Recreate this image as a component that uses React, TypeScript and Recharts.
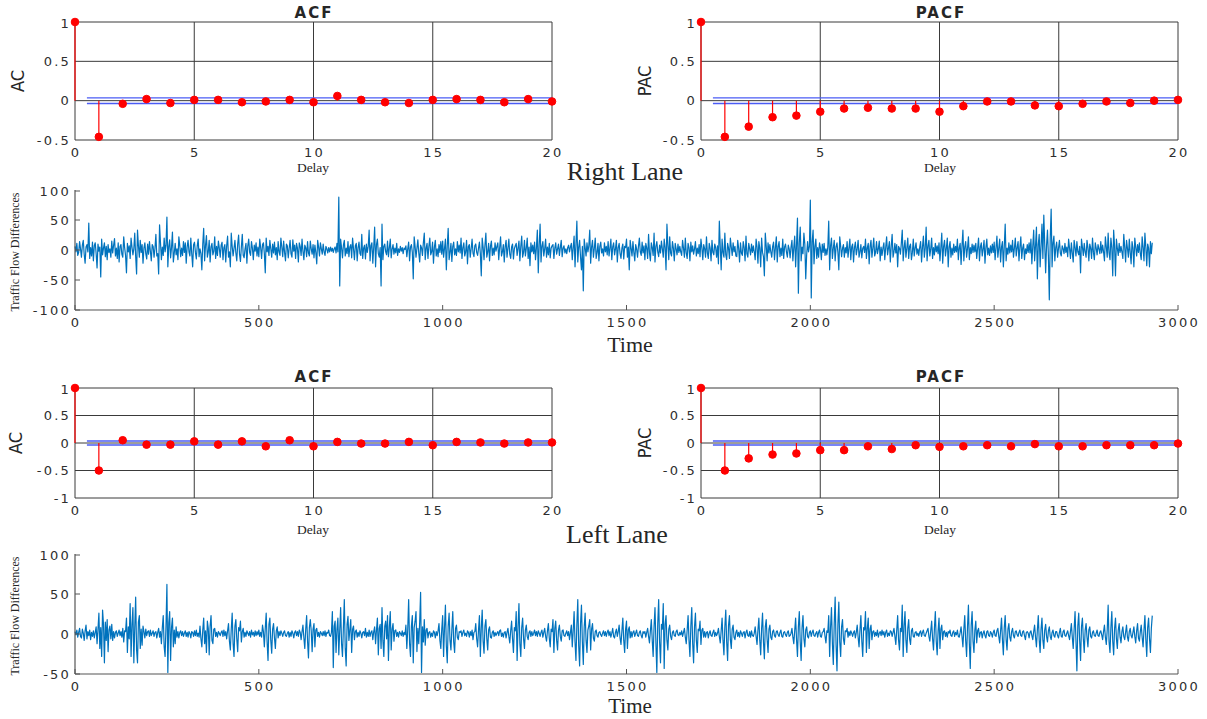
import React from 'react';
import { ComposedChart, LineChart, Line, XAxis, YAxis, CartesianGrid, ReferenceLine } from 'recharts';

// ---- ACF / PACF values (lag 0..20) ----
const lags = [0, 1, 2, 3, 4, 5, 6, 7, 8, 9, 10, 11, 12, 13, 14, 15, 16, 17, 18, 19, 20];
const rightAcf = [1, -0.46, -0.04, 0.02, -0.03, 0.01, 0.01, -0.02, -0.01, 0.01, -0.02, 0.06, 0.01, -0.02, -0.03, 0.01, 0.02, 0.01, -0.02, 0.02, -0.01];
const rightPacf = [1, -0.46, -0.33, -0.21, -0.19, -0.14, -0.10, -0.09, -0.10, -0.10, -0.14, -0.07, -0.01, -0.01, -0.06, -0.07, -0.04, -0.01, -0.03, 0.0, 0.01];
const leftAcf = [1, -0.5, 0.05, -0.03, -0.03, 0.03, -0.03, 0.03, -0.06, 0.05, -0.06, 0.02, -0.01, -0.01, 0.02, -0.04, 0.02, 0.01, -0.01, 0.01, 0.01];
const leftPacf = [1, -0.5, -0.28, -0.21, -0.19, -0.13, -0.13, -0.06, -0.11, -0.04, -0.07, -0.06, -0.04, -0.06, -0.02, -0.06, -0.06, -0.04, -0.04, -0.04, -0.01];
const confBound = 0.036;

const delayTicks = [0, 5, 10, 15, 20];
const acTicksTop = [-0.5, 0, 0.5, 1];
const acTicksBottom = [-1, -0.5, 0, 0.5, 1];
const timeTicks = [0, 500, 1000, 1500, 2000, 2500, 3000];
const rightFlowTicks = [-100, -50, 0, 50, 100];
const leftFlowTicks = [-50, 0, 50, 100];

// ---- traffic flow differences, every 2.5 time steps ----
const SAMPLE_STEP = 2.5;

const rightLane0 = [
  6, -3, 11, -9, -4, 14, 2, -12, 8, 16, -7, -22, 5, 9, -3, 45, -14, 4, -10, 13,
  -18, 7, 12, -6, -30, 10, -2, 5, -45, 18, -8, 3, 12, -11, 6, -16, 9, -4, 2, -12,
  15, -5, 8, 19, -10, 3, -14, 12, -20, 6, 9, -7, -12, 22, 4, -9, -38, 11, -3, 7,
  -14, 20, 5, -8, 2, 28, -11, -40, 33, 7, -12, 16, -4, 9, -22, 3, 12, -6, -15, 10,
  -7, 14, -2, -18, 9, 6, -12, 3, 26, -10, -6, -40, 42, 12, -16, 5, -9, 20, -3, 8,
  55, -28, 6, 17, -13, 4, 30, -20, -5, 11, -8, 2, -16, 22, 7, -11, 3, -9, 14, -4,
  12, -22, 5, 16, -3, -10, 20, -6, -28, 9, 13, -4, -15, 7, 18, -11, 2, -6, -33, 10,
  36, -18, 8, 24, -12, -3, 16, -20, 5, 11, -8, -2, 22, -14, 6, -9, 15, 3, -12, 8,
  13, -16, 4, 9, -20, 7, 23, -12, -3, -28, 28, 6, -10, 3, 16, -5, -18, 10, 25, -7,
  -19, 5, 26, -9, -13, 2, 11, -22, 7, 18, -4, -9, 14, 3, -16, 8, -2, 12, -10, 5,
];
const rightLane500 = [
  -11, 18, 4, -14, 9, 12, -6, -38, 20, -3, 6, -9, 16, 2, -12, 10, -5, 13, -8, 4,
  -16, 14, -3, -9, 20, 5, -11, 15, -4, -18, 10, 7, -13, 3, 16, -6, -12, 17, -2, 8,
  -14, 11, 3, -20, 12, 6, -9, 18, -2, -16, 8, 4, -11, 14, -5, -10, 15, 2, -7, 9,
  -13, 8, -4, -23, 16, 5, -10, 12, 2, -7, 10, -3, -9, 6, 2, -5, 4, -3, 5, -2,
  3, -4, 2, 5, -5, 11, -3, 88, -60, 18, 4, -13, 8, 16, -10, 3, -6, 14, -11, 5,
  9, -13, 20, 2, -16, 7, 11, -18, 4, 13, -6, -9, 26, -14, 3, 8, -15, 10, -4, 6,
  33, -18, 7, 12, -22, 5, 38, -28, 9, 18, -6, -12, 4, -60, 43, -16, 6, 10, -3, -8,
  15, -11, 4, 18, -13, 2, 9, -7, 3, -5, 11, -9, 2, -4, 6, -2, 4, -6, 3, 1,
  7, -11, 2, 13, -18, 5, 9, -4, -48, 22, 6, -12, 3, 17, -5, -20, 8, 4, -9, 12,
  28, -16, 3, 11, -14, 6, 20, -8, -3, 13, -22, 5, 16, -10, 2, -11, 9, -4, 14, -7,
];
const rightLane1000 = [
  15, -12, 3, 18, -33, 7, 36, -16, -4, 11, -19, 6, 13, -8, 2, -9, 14, -3, 8, -5,
  20, -14, 4, 12, -10, -3, 16, -23, 6, 9, -12, 2, 18, -5, -11, 7, 10, -4, -9, 3,
  13, -6, -43, 20, 5, -16, 8, 28, -12, -3, 11, -18, 6, 15, -9, 3, -8, 12, -2, 6,
  12, -16, 4, 22, -10, -3, 9, -20, 6, 16, -12, 3, 18, -7, -14, 5, 10, -15, 2, 7,
  11, -9, 3, 15, -18, 6, 23, -12, -4, 16, -10, 3, 20, -14, 5, -26, 12, -3, 8, -6,
  13, -16, 4, 33, -38, 8, 43, -20, 6, 14, -10, 2, 18, -12, 5, -8, 11, -13, 3, 7,
  9, -14, 3, 12, -7, 2, 10, -9, 4, 16, -11, 3, 7, -5, 2, -6, 4, 8, -3, 5,
  11, -16, 4, 23, -28, 9, 48, -20, 5, 16, -12, -33, 6, -68, 18, 4, -10, 12, -3, 7,
  33, -22, 5, 16, -12, 3, 20, -14, -4, 11, -18, 6, 13, -5, 2, -10, 12, -3, 6, -8,
  14, -10, 3, 18, -16, 5, 12, -8, 2, 16, -20, 4, 11, -6, -14, 3, 10, -15, 6, 4,
];
const rightLane1500 = [
  18, -12, 5, -33, 16, 3, -10, 14, -4, -18, 9, 2, -12, 6, 20, -3, -9, 13, -5, 7,
  -16, 11, 3, -14, 26, -5, -18, 12, 4, -9, 28, -20, 6, 14, -3, -11, 8, -5, 15, 2,
  -12, 18, 4, -33, 43, 8, -16, 22, -5, -10, 14, 3, -18, 11, 2, -8, 10, -4, 6, -3,
  -9, 16, 3, -12, 20, -5, -14, 11, 4, -18, 13, -3, 7, -7, 2, 14, -10, 3, -6, 9,
  -11, 18, 4, -16, 9, 2, -12, 22, -5, -14, 11, 3, -18, 16, -4, -8, 10, 4, -12, 7,
  -23, 48, 6, -33, 18, -4, -12, 28, -8, -16, 11, 3, -14, 20, 5, -9, 12, -3, 6, -10,
  -11, 16, 3, -20, 12, -5, -9, 14, 4, -18, 23, -6, -12, 11, 2, -8, 10, -4, 7, -3,
  -16, 18, 5, -22, 14, 3, -28, 20, -4, -11, -43, 28, 7, -18, 12, -5, 9, -3, -12, 6,
  13, -16, 4, 22, -20, 6, 14, -11, 3, -9, 18, -14, 5, 10, -3, -12, 8, 2, -13, 5,
  16, -18, 4, 23, -28, 9, 53, -72, 12, 38, -18, 5, -6, 28, 10, -48, -8, 14, -3, 6,
];
const rightLane2000 = [
  83, -80, 14, 33, -23, 6, 18, -14, 4, -12, 12, 3, -16, 10, -4, 11, -9, 2, -8, 5,
  48, -33, 7, 20, -14, 3, 16, -18, 5, 12, -4, -33, 22, 6, -11, 3, 9, -12, 4, -5,
  14, -12, 3, 18, -16, 5, 10, -20, 4, 13, -8, 2, 16, -12, -3, 9, -13, 3, 6, -4,
  18, -14, 4, 11, -23, 6, 16, -12, 3, 20, -10, -4, 14, -6, 2, 15, -18, 5, -9, 3,
  12, -16, 4, 22, -8, 3, 14, -20, 6, 26, -12, -3, 11, -5, 9, -28, 6, 3, -7, 11,
  33, -18, 4, 16, -12, 3, 20, -14, 6, 10, -16, -4, 18, -10, 3, 12, -7, 2, -9, 5,
  14, -20, 5, 23, -12, 3, 38, -18, 6, 16, -10, 2, 20, -14, 4, -8, 11, -3, 7, -6,
  12, -18, 4, 28, -22, 6, 16, -10, 3, 20, -28, 5, 14, -12, 3, -8, 10, -4, 6, -3,
  18, -16, 4, 11, -24, 7, 33, -18, 5, 14, -12, 3, 22, -16, 4, -6, 10, -4, 8, -3,
  11, -14, 3, 20, -18, 5, 12, -10, 2, 16, -22, 4, 18, -8, 3, -9, 7, -5, 10, -4,
];
const rightLane2500 = [
  13, -16, 4, 23, -12, 3, 18, -20, 5, 14, -28, 6, 43, -18, 3, -7, 12, -5, 8, -3,
  16, -12, 3, 20, -10, 4, 14, -18, 5, 22, -14, 3, 10, -16, 2, -6, 9, -4, 12, -5,
  18, -23, 6, 33, -18, 7, 38, -48, 9, 26, -28, 6, 43, -14, 58, 10, -38, 8, 33, -10,
  -83, 20, 68, -28, 12, 23, -18, 4, 13, -12, 3, 16, -5, -10, 7, 2, -6, 11, -4, 5,
  -11, 18, 3, -14, 12, -5, -20, 16, 4, -10, 14, -3, -8, 6, -38, 18, 5, -9, 11, -3,
  -12, 16, 4, -18, 10, 3, -14, 20, -4, -16, 12, 3, -8, 9, 2, -6, 14, -5, 8, -3,
  -18, 22, 5, -12, 28, -5, -16, 20, 4, -43, 33, 6, -43, 18, 3, -9, 11, -4, 6, -3,
  -14, 26, 5, -20, 16, 3, -12, 18, -4, -23, 14, 3, -28, 20, 5, -10, 9, -4, 12, -6,
  -16, 22, 4, -18, 28, 5, -26, 10, 3, -28, 14, -6, 12,
];

const leftLane0 = [
  3, -1, 5, -4, 2, 7, -3, -5, 6, 1, -8, 4, 11, -6, 3, -2, 5, -7, 2, -3,
  4, -5, 2, 9, -12, 6, 26, -18, 8, -28, 30, 12, -36, 15, -8, 18, -22, 5, 10, -6,
  12, -8, 3, -5, 2, 4, -3, 1, 5, -2, 3, -4, 7, -10, 4, 3, 20, -23, 9, -6,
  38, -28, 12, 33, -36, 8, 46, -20, -36, 15, 23, -18, 6, -14, 10, 3, -5, 6, -2, 3,
  4, -3, 5, -2, 1, 4, -3, 2, 3, -5, 2, 7, -4, 3, -12, 8, 23, -16, -28, 10,
  62, -48, 14, 28, -33, 8, 20, -16, 5, -12, 9, -4, 3, -5, 2, 4, -2, 3, -3, 1,
  4, -3, 2, -4, 3, 1, -5, 3, 2, -3, 4, -2, 5, -3, 1, -4, 10, -6, -16, 5,
  20, -12, 4, -23, 16, 7, -26, 10, 23, -8, -12, 6, 7, -3, 2, -4, 3, 1, -2, 2,
  4, -3, 5, -2, 3, -6, 4, 13, -9, -20, 6, 26, -12, -28, 10, 18, -6, -22, 8, 4,
  16, -10, 3, 7, -4, 2, -3, 4, 1, -2, 3, -4, 5, -1, 2, -3, 4, -2, 3, -1,
];
const leftLane500 = [
  5, -3, 2, -4, 11, 3, -16, 7, 26, -10, -33, 12, 20, -8, -24, 6, 13, -5, -18, 4,
  9, -5, 3, -2, 4, 1, -3, 2, 4, -2, -3, 1, 3, -4, 2, -3, 4, 1, -5, 2,
  4, -2, 3, -3, 5, 2, -7, 3, 11, -5, -18, 6, 23, -9, -30, 8, 18, 4, -22, 6,
  13, -16, 5, 7, -3, 2, -4, 3, 1, -2, 3, -2, 4, -3, 2, 1, 5, -2, -3, 2,
  28, -42, 10, 16, -23, 6, 20, -26, 4, 33, -12, -28, 8, 43, -18, -40, 12, 22, -8, 5,
  18, -23, 6, 10, -7, 3, 5, -4, 2, -3, 4, 1, -5, 2, 3, -2, 7, -4, 2, -3,
  5, -3, 2, 4, -7, 3, 9, -12, 5, 20, -26, 7, 12, -18, 33, -8, -28, 10, 16, -6,
  23, -33, 9, 28, -20, 6, 13, -9, 4, 5, -3, 2, -4, 3, 1, -2, 4, -3, 2, -1,
  11, -18, 6, 43, -12, -28, 10, 23, -36, 8, 16, 28, -22, 7, -12, 15, 52, -48, 9, -10,
  18, -14, 5, 7, -5, 2, 3, -4, 1, -3, 4, 2, -5, 3, -2, 4, 13, -8, -18, 6,
];
const leftLane1000 = [
  23, -28, 8, 36, -15, -36, 10, 26, -8, -20, 6, 28, -10, -23, 7, 11, -4, -7, 3, 2,
  4, -3, 2, 5, -2, 1, -3, 4, 2, -4, 3, -2, 5, -7, 2, 3, 13, -6, -16, 5,
  23, -28, 7, 30, -9, -24, 10, 18, -6, -20, 5, 9, -4, -5, 2, 4, -3, 2, -2, 1,
  3, -2, 4, 5, -3, 1, -4, 2, 3, -5, 2, 7, -3, -11, 4, 16, -6, -23, 8, 4,
  28, -33, 9, 38, -12, -28, 8, 20, -6, -18, 5, 11, -3, -7, 2, 4, -3, 3, -2, 1,
  5, -2, 3, -3, 4, 1, -3, 2, 5, -4, 2, 7, -3, -9, 4, 13, -5, -16, 6, 3,
  18, -23, 7, 16, -8, -20, 5, 11, -3, -9, 4, 5, -2, -3, 1, 4, -2, 3, -7, 2,
  11, -16, 4, 28, -10, -33, 12, 43, -15, -40, 13, 36, -10, -38, 9, 26, -8, -23, 5, 10,
  18, -20, 6, 13, -5, -9, 3, 5, -2, -4, 2, 3, -1, -3, 1, 4, -2, 3, -3, 2,
  5, -2, 3, -4, 1, 7, -3, -5, 2, 6, -3, 3, 11, -5, -13, 4, 20, -8, -23, 6,
];
const leftLane1500 = [
  16, -18, 5, 9, -5, 3, -4, 2, 4, -3, 1, 5, -2, -3, 2, 4, -2, -5, 3, 1,
  3, -4, 2, 7, -3, -11, 4, 18, -8, -28, 10, 33, -12, -48, 13, 43, -10, -36, 12, 6,
  38, -43, 12, 23, -8, -20, 6, 11, -3, -7, 2, 4, -2, -3, 3, 5, -1, -2, 2, -1,
  4, -3, 2, 7, -4, -12, 5, 23, -8, -28, 10, 33, -12, -36, 9, 26, -8, -23, 6, 4,
  16, -13, 5, 7, -4, 3, -4, 2, 3, -5, 1, 4, -2, -3, 2, 5, -3, 2, -2, 1,
  7, -3, -11, 4, 20, -8, -26, 9, 30, -10, -33, 11, 23, -7, -18, 6, 11, -4, -7, 2,
  5, -3, 2, -4, 4, 1, -3, 2, 3, -5, 2, 5, -2, -3, 3, -4, 4, -2, -3, 1,
  9, -3, -13, 5, 20, -8, -26, 7, 26, -10, -31, 9, 18, -7, -23, 6, 11, -4, -7, 3,
  5, -2, -4, 3, 4, -1, -3, 2, 5, -3, -4, 2, 3, -1, -3, 2, 4, -3, -2, 1,
  7, -4, -12, 4, 20, -7, -28, 9, 28, -10, -33, 8, 23, -6, -16, 5, 9, -3, -5, 2,
];
const leftLane2000 = [
  4, -3, 2, 5, -2, -3, 1, 3, -4, 2, 5, -3, -4, 2, 3, 7, -3, -11, 4, 2,
  23, -28, 8, 33, -12, -38, 13, 46, -14, -46, 12, 40, -10, -28, 9, 18, -6, -13, 4, 3,
  7, -4, 3, -2, 4, 1, -3, 2, 4, -5, 2, 11, -4, -16, 5, 23, -9, -28, 8, 5,
  28, -23, 7, 20, -18, 6, 11, -7, 3, 4, -3, 2, -2, 5, -4, 1, 3, -2, 5, -1,
  3, -4, 2, 5, -3, 1, -2, 4, 3, -3, 2, 7, -3, -13, 5, 23, -8, -20, 7, 3,
  36, -28, 10, 28, -8, -23, 7, 18, -6, -13, 4, 7, -3, -4, 2, 3, -2, 1, -3, 2,
  4, -3, 2, 5, -2, -3, 1, 4, 7, -3, -9, 4, 16, -6, -20, 7, 28, -9, -26, 4,
  20, -18, 6, 11, -7, 3, 4, -3, 2, -4, 3, 1, 5, -2, -3, 2, 4, -3, 2, -1,
  5, -3, -4, 2, 9, -3, -16, 6, 23, -8, -28, 9, 36, -12, -43, 11, 28, -9, -23, 5,
  16, -11, 4, 7, -4, 2, 3, -5, 1, 4, -2, -5, 3, 4, -2, -3, 3, 1, -4, 2,
];
const leftLane2500 = [
  5, -2, -3, 4, 7, -3, -11, 4, 20, -7, -26, 8, 23, -7, -20, 6, 13, -4, -9, 3,
  7, -2, -5, 3, 4, -1, -3, 2, 5, -2, -3, 3, 4, -2, -7, 2, 3, 1, -5, 2,
  4, -2, -7, 3, 11, -4, -16, 5, 23, -7, -23, 6, 20, -8, -18, 5, 12, -3, -10, 4,
  9, -3, -7, 2, 5, -2, -4, 3, 3, -2, -5, 2, 7, -3, -4, 3, 5, -2, -3, 1,
  4, -2, -7, 3, 13, -4, -18, 6, 28, -9, -46, 10, 26, -8, -33, 9, 20, -6, -23, 5,
  13, -4, -16, 5, 9, -3, -5, 2, 4, -2, -3, 1, 5, -2, -3, 2, 4, -1, -7, 3,
  11, -4, -13, 5, 36, -10, -23, 8, 28, -9, -26, 7, 20, -6, -18, 5, 13, -4, -11, 3,
  9, -3, -7, 2, 11, -4, -9, 3, 7, -2, -5, 2, 9, -3, -11, 4, 13, -5, -9, 3,
  11, -4, -16, 5, 23, -7, -28, 8, 20, -6, -23, 7, 23,
];

const rightLane = [...rightLane0, ...rightLane500, ...rightLane1000, ...rightLane1500, ...rightLane2000, ...rightLane2500];
const leftLane = [...leftLane0, ...leftLane500, ...leftLane1000, ...leftLane1500, ...leftLane2000, ...leftLane2500];

const TICK_FONT = "'DejaVu Sans', sans-serif";
const TICK_COLOR = '#2e2e2e';
const FRAME = '#555555';
const SERIF = "'Liberation Serif', 'DejaVu Serif', serif";
const NARROW = "'Liberation Sans Narrow', 'DejaVu Sans Condensed', sans-serif";
const TITLE_FONT = "'DejaVu Sans', sans-serif";

const tickText = (x: number, y: number, value: any, anchor: 'middle' | 'end') => (
  <text
    x={x}
    y={y}
    textAnchor={anchor}
    dominantBaseline="central"
    fontFamily={TICK_FONT}
    fontSize={13}
    fill={TICK_COLOR}
    style={{ letterSpacing: '2.2px' }}
  >
    {value}
  </text>
);

// tick components: labels outside, short tick marks pointing into the plot
const BottomTick = ({ x, y, payload, gap, mark }: any) => (
  <g>
    {mark ? <line x1={x} x2={x} y1={y - gap} y2={y - gap - 5} stroke={FRAME} /> : null}
    {tickText(x + 1, y + 6, payload.value, 'middle')}
  </g>
);
const LeftTick = ({ x, y, payload, gap, mark }: any) => (
  <g>
    {mark ? <line x1={x + gap} x2={x + gap + 5} y1={y} y2={y} stroke={FRAME} /> : null}
    {tickText(x + 2, y, payload.value, 'end')}
  </g>
);
const TopTick = ({ x, y }: any) => <line x1={x} x2={x} y1={y} y2={y + 5} stroke={FRAME} />;
const RightTick = ({ x, y }: any) => <line x1={x} x2={x - 5} y1={y} y2={y} stroke={FRAME} />;

const Txt: React.FC<{ cx: number; cy: number; size: number; font?: string; bold?: boolean; rotate?: boolean; spacing?: number; children: React.ReactNode }> = ({ cx, cy, size, font = SERIF, bold, rotate, spacing, children }) => (
  <div
    style={{
      position: 'absolute',
      left: cx,
      top: cy,
      transform: `translate(-50%, -50%)${rotate ? ' rotate(-90deg)' : ''}`,
      fontFamily: font,
      fontSize: size,
      fontWeight: bold ? 700 : 400,
      letterSpacing: spacing ? `${spacing}px` : undefined,
      color: '#262626',
      whiteSpace: 'nowrap',
      lineHeight: 1,
    }}
  >
    {children}
  </div>
);

interface StemProps {
  x: number;
  y: number;
  w: number;
  h: number;
  values: number[];
  domain: [number, number];
  yTicks: number[];
}

const StemPanel: React.FC<StemProps> = ({ x, y, w, h, values, domain, yTicks }) => {
  const data = lags.map((lag, i) => ({ lag, v: values[i] }));
  const padL = 60, padR = 14, padT = 8, padB = 30;
  return (
    <div style={{ position: 'absolute', left: x - padL, top: y - padT }}>
      <ComposedChart width={w + padL + padR} height={h + padT + padB} data={data} margin={{ top: padT, right: padR, bottom: 0, left: 0 }}>
        <CartesianGrid stroke="#3a3a3a" strokeWidth={1} />
        <XAxis dataKey="lag" type="number" domain={[0, 20]} ticks={delayTicks} height={padB} tickSize={0} tickMargin={6} axisLine={false} tickLine={false} tick={<BottomTick gap={6} mark={false} />} />
        <YAxis type="number" domain={domain} ticks={yTicks} width={padL} tickSize={0} tickMargin={6} axisLine={false} tickLine={false} tick={<LeftTick gap={6} mark={false} />} />
        <ReferenceLine segment={[{ x: 0.5, y: confBound }, { x: 20, y: confBound }]} stroke="#4b5cf5" strokeWidth={1.3} />
        <ReferenceLine segment={[{ x: 0.5, y: -confBound }, { x: 20, y: -confBound }]} stroke="#4b5cf5" strokeWidth={1.3} />
        {data.map((d) => (
          <ReferenceLine key={d.lag} segment={[{ x: d.lag, y: 0 }, { x: d.lag, y: d.v }]} stroke="#ff0000" strokeWidth={1.2} />
        ))}
        <Line dataKey="v" stroke="none" dot={{ r: 3.8, fill: '#ff0000', stroke: '#ff0000', strokeWidth: 1 }} isAnimationActive={false} />
      </ComposedChart>
    </div>
  );
};

interface FlowProps {
  x: number;
  y: number;
  w: number;
  h: number;
  series: number[];
  domain: [number, number];
  yTicks: number[];
}

const FlowPanel: React.FC<FlowProps> = ({ x, y, w, h, series, domain, yTicks }) => {
  const data = series.map((v, i) => ({ t: i * SAMPLE_STEP, v }));
  const padL = 60, padR = 29, padT = 8, padB = 30;
  return (
    <div style={{ position: 'absolute', left: x - padL, top: y - padT }}>
      <LineChart width={w + padL + padR} height={h + padT + padB} data={data} margin={{ top: padT, right: padR, bottom: 0, left: 0 }}>
        <XAxis dataKey="t" type="number" domain={[0, 3000]} ticks={timeTicks} height={padB} tickSize={0} tickMargin={6} tickLine={false} axisLine={{ stroke: FRAME, strokeWidth: 1.2 }} tick={<BottomTick gap={6} mark />} />
        <XAxis xAxisId="top" orientation="top" type="number" domain={[0, 3000]} ticks={timeTicks} height={0} tickSize={0} tickMargin={0} tickLine={false} axisLine={{ stroke: FRAME, strokeWidth: 1.2 }} tick={<TopTick />} />
        <YAxis type="number" domain={domain} ticks={yTicks} width={padL} tickSize={0} tickMargin={6} tickLine={false} axisLine={{ stroke: FRAME, strokeWidth: 1.2 }} tick={<LeftTick gap={6} mark />} />
        <YAxis yAxisId="right" orientation="right" type="number" domain={domain} ticks={yTicks} width={0} tickSize={0} tickMargin={0} tickLine={false} axisLine={{ stroke: FRAME, strokeWidth: 1.2 }} tick={<RightTick />} />
        <Line dataKey="v" stroke="#0072BD" strokeWidth={1.2} strokeLinejoin="round" dot={false} isAnimationActive={false} />
      </LineChart>
    </div>
  );
};

const App: React.FC = () => (
  <div style={{ position: 'absolute', left: 0, top: 0, width: 1207, height: 719, background: '#ffffff', overflow: 'hidden' }}>
    {/* Right lane */}
    <StemPanel x={75} y={22} w={477} h={118} values={rightAcf} domain={[-0.5, 1]} yTicks={acTicksTop} />
    <StemPanel x={701} y={22} w={477} h={118} values={rightPacf} domain={[-0.5, 1]} yTicks={acTicksTop} />
    <Txt cx={314} cy={13} size={15} font={TITLE_FONT} bold spacing={2}>ACF</Txt>
    <Txt cx={941} cy={13} size={15} font={TITLE_FONT} bold spacing={2}>PACF</Txt>
    <Txt cx={313} cy={168} size={13.5}>Delay</Txt>
    <Txt cx={940} cy={168} size={13.5}>Delay</Txt>
    <Txt cx={18} cy={81} size={18} font={NARROW} rotate>AC</Txt>
    <Txt cx={645} cy={81} size={18} font={NARROW} rotate>PAC</Txt>
    <Txt cx={625} cy={172} size={26}>Right Lane</Txt>
    <FlowPanel x={75} y={190} w={1103} h={120} series={rightLane} domain={[-100, 100]} yTicks={rightFlowTicks} />
    <Txt cx={15} cy={252} size={12} rotate>Traffic Flow Differences</Txt>
    <Txt cx={630} cy={345} size={22}>Time</Txt>

    {/* Left lane */}
    <StemPanel x={75} y={388} w={477} h={110} values={leftAcf} domain={[-1, 1]} yTicks={acTicksBottom} />
    <StemPanel x={701} y={388} w={477} h={110} values={leftPacf} domain={[-1, 1]} yTicks={acTicksBottom} />
    <Txt cx={314} cy={377} size={15} font={TITLE_FONT} bold spacing={2}>ACF</Txt>
    <Txt cx={941} cy={377} size={15} font={TITLE_FONT} bold spacing={2}>PACF</Txt>
    <Txt cx={313} cy={530} size={13.5}>Delay</Txt>
    <Txt cx={940} cy={530} size={13.5}>Delay</Txt>
    <Txt cx={16} cy={443} size={18} font={NARROW} rotate>AC</Txt>
    <Txt cx={645} cy={443} size={18} font={NARROW} rotate>PAC</Txt>
    <Txt cx={617} cy={535} size={26}>Left Lane</Txt>
    <FlowPanel x={75} y={554} w={1103} h={120} series={leftLane} domain={[-50, 100]} yTicks={leftFlowTicks} />
    <Txt cx={15} cy={616} size={12} rotate>Traffic Flow Differences</Txt>
    <Txt cx={630} cy={706} size={21}>Time</Txt>
  </div>
);

export default App;
